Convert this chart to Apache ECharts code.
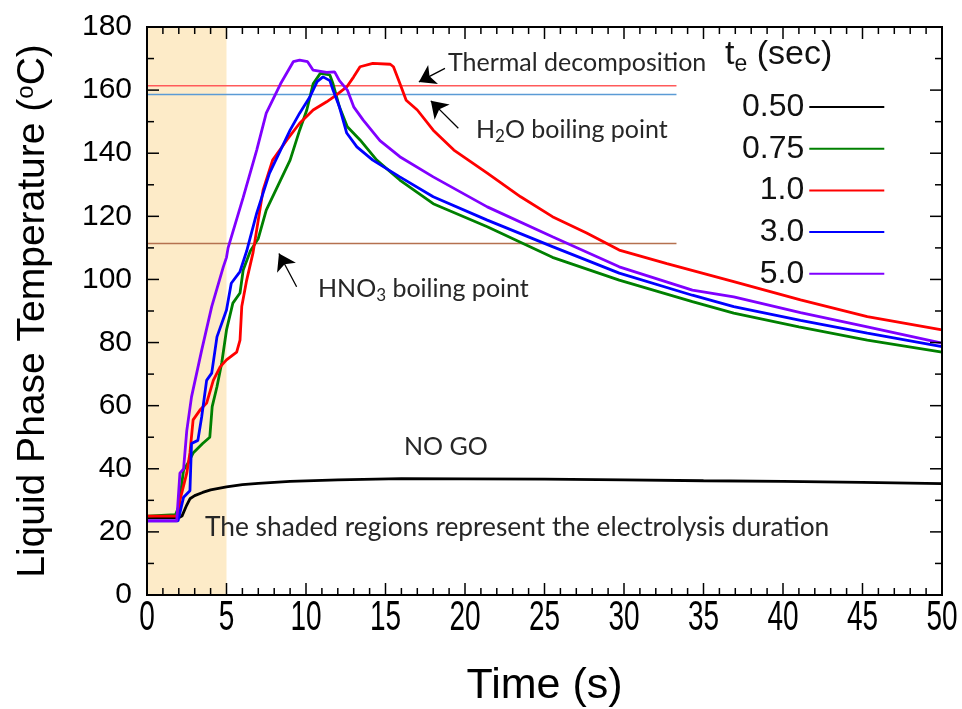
<!DOCTYPE html>
<html>
<head>
    <meta charset="utf-8">
    <title>Liquid Phase Temperature</title>
    <script src="https://cdn.jsdelivr.net/npm/echarts@6/dist/echarts.min.js"></script>
    <style type="text/css">
        html, body {
            margin: 0;
            padding: 0;
            background: #fff;
        }

        #main {
            width: 962px;
            height: 709px;
        }
    </style>
</head>
<body>
<div id="main"></div>
<script>
    // electrolysis times (legend) and trace colours
    var names = ['0.50', '0.75', '1.0', '3.0', '5.0'];
    var colors = ['#000000', '#008000', '#ff0000', '#0000ff', '#8000ff'];
    var xTicks = [0, 5, 10, 15, 20, 25, 30, 35, 40, 45, 50];

    // te = 0.50 s
    var t050 = [0, 1, 2.0, 2.2, 2.5, 2.7, 3.0, 3.5, 4.0, 5.0, 6.0, 7.0, 9.0, 12, 16, 20, 25, 30, 35, 40, 45, 50];
    var v050 = [24.5, 24.5, 24.5, 25, 28.5, 30.5, 31.5, 32.5, 33.3, 34.3, 35, 35.4, 36, 36.5, 36.9, 36.8, 36.7, 36.5, 36.2, 36, 35.7, 35.3];
    // te = 0.75 s
    var t075 = [0, 1.8, 2.0, 2.3, 2.6, 2.9, 3.5, 3.95, 4.1, 4.4, 4.7, 5.0, 5.4, 5.85, 6.05, 6.5, 7.0, 7.5, 8.4, 9.0, 9.6, 10.05, 10.45, 10.9, 11.5, 11.7, 12.1, 12.6, 13.4, 14.45, 15.9, 18, 21.4, 25.5, 29.7, 34.3, 36.9, 41, 45.3, 50];
    var v075 = [25, 25.5, 28, 39.6, 42, 45, 48, 50, 59.7, 66, 73.5, 84, 92.5, 95.7, 103, 109, 113, 122, 131.5, 137.8, 147.3, 153.7, 162, 165.3, 164.8, 162, 154.7, 148.4, 144.2, 137.8, 131.5, 124, 116.7, 107, 99.8, 93, 89.3, 85, 80.8, 77];
    // te = 1.0 s
    var t100 = [0, 2.0, 2.07, 2.5, 2.7, 2.9, 3.33, 3.75, 4.17, 4.6, 5.0, 5.64, 5.85, 5.96, 6.27, 6.67, 7.3, 7.9, 8.8, 9.6, 10.45, 11.3, 11.9, 12.56, 13.0, 13.4, 14.2, 15.3, 15.5, 15.9, 16.3, 17.0, 18.0, 19.3, 21.4, 23.5, 25.5, 27.65, 29.7, 32.7, 36.9, 41.1, 45.3, 50];
    var v100 = [25, 25, 30, 38.6, 45, 55.5, 58.6, 60.8, 68, 72.3, 74.5, 77, 80.8, 91.4, 99.8, 108.5, 128.3, 137.8, 144.2, 149.5, 153.7, 156.3, 158.4, 161, 164.2, 167.4, 168.5, 168.2, 167.4, 162.2, 156.8, 153.7, 147.3, 141, 133.7, 126.2, 119.9, 114.7, 109.3, 105, 99.3, 93.5, 88.2, 84];
    // te = 3.0 s
    var t300 = [0, 1.95, 2.3, 2.7, 2.8, 3.2, 3.44, 3.75, 4.07, 4.4, 5.0, 5.3, 5.85, 6.27, 6.9, 7.7, 8.4, 9.0, 9.6, 10.25, 10.7, 11.07, 11.5, 11.7, 12.1, 12.56, 13.2, 14.2, 15.9, 18.0, 21.4, 25.5, 29.7, 34.3, 36.9, 41.1, 45.3, 50];
    var v300 = [23.5, 23.5, 31, 33, 48, 49, 56.5, 68, 70.3, 81.8, 90.3, 98.8, 102.5, 109, 121, 133.6, 141, 147.3, 152.7, 157.9, 162.7, 164.2, 163, 160, 154.7, 146.4, 142, 137.8, 132.5, 126.2, 118.8, 110.4, 102, 95, 91.4, 87, 83, 78.7];
    // te = 5.0 s
    var t500 = [0, 1.87, 2.07, 2.3, 2.5, 2.8, 3.44, 4.07, 4.8, 5.0, 5.1, 6.05, 6.9, 7.5, 8.4, 9.2, 9.6, 10.1, 10.45, 11.3, 11.8, 12.1, 12.6, 13.0, 13.6, 14.65, 15.9, 18.0, 21.4, 25.5, 29.7, 34.3, 36.9, 41.1, 45.3, 50];
    var v500 = [23.5, 23.5, 38.6, 40, 52, 62.8, 77.6, 91.4, 104, 107, 110, 126, 141, 152.7, 162, 169, 169.5, 169, 166.3, 165.6, 165.8, 163, 160, 154.7, 150.5, 144, 138.9, 132.5, 123, 113.5, 104, 96.6, 94.5, 89.5, 85, 79.8];

    var times = [t050, t075, t100, t300, t500];
    var temps = [v050, v075, v100, v300, v500];

    // reference levels: thermal decomposition, H2O bp, HNO3 bp
    var refLevels = [161.4, 158.6, 111.4];
    var refColors = ['#ff5a5a', '#5b9bd5', '#b5714f'];
    var refEnd = 33.3;
    var shadeEnd = 5;

    // annotation arrows [tail, head] in data units
    var arrows = [
        [[18.74, 166.9], [17.1, 162.6]],
        [[19.58, 147.9], [17.85, 156.6]],
        [[9.41, 97.7], [8.3, 108.2]]
    ];

    function pairs(xs, ys) {
        var out = [];
        for (var i = 0; i < xs.length; i++) {
            out.push([xs[i], ys[i]]);
        }
        return out;
    }

    var myChart = echarts.init(document.getElementById('main'));

    var series = [];
    // shaded electrolysis duration
    series.push({
        type: 'line',
        data: [],
        z: 1,
        silent: true,
        markArea: {
            silent: true,
            itemStyle: {color: '#fdebc8'},
            data: [[{xAxis: 0}, {xAxis: shadeEnd}]]
        }
    });
    for (var i = 0; i < names.length; i++) {
        series.push({
            name: names[i],
            type: 'line',
            data: pairs(times[i], temps[i]),
            showSymbol: false,
            color: colors[i],
            lineStyle: {width: 2.8, color: colors[i]},
            z: 3 + i
        });
    }
    for (var k = 0; k < refLevels.length; k++) {
        series.push({
            type: 'line',
            data: [[0, refLevels[k]], [refEnd, refLevels[k]]],
            showSymbol: false,
            silent: true,
            lineStyle: {width: 1.5, color: refColors[k]},
            z: 2
        });
    }
    series.push({
        type: 'lines',
        coordinateSystem: 'cartesian2d',
        symbol: ['none', 'arrow'],
        symbolSize: [0, 16],
        lineStyle: {color: '#000', width: 1.3, opacity: 1},
        data: arrows.map(function (a) {
            return {coords: a};
        }),
        z: 10
    });

    var noteStyle = {fontFamily: 'Lato, sans-serif', fontSize: 25, fill: '#262626'};
    var subStyle = {fontFamily: 'Lato, sans-serif', fontSize: 17, fill: '#262626', padding: [14, 0, 0, 0]};

    var notes = [
        {type: 'text', z: 100, left: 448, top: 50, style: Object.assign({text: 'Thermal decomposition'}, noteStyle)},
        {
            type: 'text', z: 100, left: 476, top: 117, style: Object.assign({
                text: 'H{sub|2}O boiling point',
                rich: {sub: subStyle}
            }, noteStyle)
        },
        {
            type: 'text', z: 100, left: 318, top: 276, style: Object.assign({
                text: 'HNO{sub|3} boiling point',
                rich: {sub: subStyle}
            }, noteStyle)
        },
        {type: 'text', z: 100, left: 404, top: 434, style: Object.assign({text: 'NO GO'}, noteStyle)},
        {type: 'text', z: 100, left: 205, top: 515, style: Object.assign({}, noteStyle, {text: 'The shaded regions represent the electrolysis duration', fontSize: 26.3})},
        {
            type: 'text', z: 100, left: 725, top: 38, style: {
                text: 't{sub|e} (sec)',
                fontFamily: 'Liberation Sans, Arial, sans-serif',
                fontSize: 34,
                fill: '#111',
                rich: {sub: {fontFamily: 'Liberation Sans, Arial, sans-serif', fontSize: 23, fill: '#111', padding: [19, 0, 0, 0]}}
            }
        }
    ];

    option = {
        animation: false,
        backgroundColor: '#fff',
        grid: {
            left: 147, right: 20, top: 27, bottom: 114,
            outerBoundsMode: 'none',
            show: true, borderColor: '#000', borderWidth: 2, backgroundColor: 'transparent',
            z: 20
        },
        legend: {
            orient: 'vertical',
            left: 737,
            top: 86,
            align: 'right',
            icon: 'rect',
            itemWidth: 75,
            itemHeight: 2,
            itemGap: 9.7,
            data: names,
            textStyle: {
                fontFamily: 'Liberation Sans, Arial, sans-serif',
                fontSize: 32,
                color: '#111',
                width: 76,
                align: 'left'
            }
        },
        xAxis: {
            type: 'value',
            min: 0,
            max: 50,
            interval: 5,
            name: 'Time (s)',
            nameLocation: 'middle',
            nameGap: 70,
            nameTextStyle: {fontFamily: 'Liberation Sans, Arial, sans-serif', fontSize: 43, color: '#000'},
            axisLine: {show: false},
            axisTick: {show: false},
            axisLabel: {show: false},
            splitLine: {show: false}
        },
        yAxis: {
            type: 'value',
            min: 0,
            max: 180,
            interval: 20,
            name: 'Liquid Phase Temperature ({sup|o}C)',
            nameLocation: 'middle',
            nameGap: 94,
            nameTextStyle: {
                fontFamily: 'Liberation Sans, Arial, sans-serif',
                fontSize: 39,
                color: '#000',
                rich: {
                    sup: {fontFamily: 'Liberation Sans, Arial, sans-serif', fontSize: 24, color: '#000', verticalAlign: 'top', padding: [0, 0, 14, 0]}
                }
            },
            axisLine: {show: false},
            axisTick: {show: false},
            axisLabel: {margin: 15, fontFamily: 'Liberation Sans, Arial, sans-serif', fontSize: 30, color: '#000'},
            splitLine: {show: false}
        },
        graphic: notes,
        series: series
    };
    myChart.setOption(option);

    // inward ticks on all four sides, placed through the axis scales
    var px = function (v) { return myChart.convertToPixel({xAxisIndex: 0}, v); };
    var py = function (v) { return myChart.convertToPixel({yAxisIndex: 0}, v); };
    var gx0 = px(0), gx1 = px(50), gy0 = py(0), gy1 = py(180);
    var extra = [];
    function tickRect(x, y, w, h) {
        extra.push({
            type: 'rect', z: 50, silent: true,
            shape: {x: x, y: y, width: w, height: h},
            style: {fill: '#000'}
        });
    }
    for (var tx = 0; tx <= 50; tx++) {
        var lx = tx % 5 === 0 ? 12 : 7;
        tickRect(px(tx) - 0.75, gy0 - lx, 1.5, lx);
        tickRect(px(tx) - 0.75, gy1, 1.5, lx);
    }
    for (var ty = 0; ty <= 180; ty += 10) {
        var ly = ty % 20 === 0 ? 12 : 7;
        tickRect(gx0, py(ty) - 0.75, ly, 1.5);
        tickRect(gx1 - ly, py(ty) - 0.75, ly, 1.5);
    }
    // x tick labels are tall and narrow in the original, so draw them stretched
    xTicks.forEach(function (v) {
        extra.push({
            type: 'text',
            z: 100,
            x: px(v),
            y: 618,
            scaleY: 1.5,
            style: {
                text: String(v),
                fontFamily: 'Liberation Sans, Arial, sans-serif',
                fontSize: 28,
                fill: '#000',
                align: 'center',
                verticalAlign: 'middle'
            }
        });
    });
    myChart.setOption({graphic: notes.concat(extra)});
</script>
</body>
</html>
